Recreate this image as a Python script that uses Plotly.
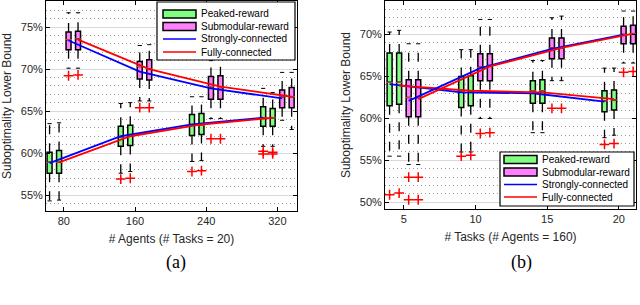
import plotly.graph_objects as go

# ---------------- data: panel (a) ----------------
a_x = [80, 160, 240, 320]
a_ticks = [80, 160, 240, 320]

a_pk_s_lo = [54.3, 57.6, 59.0, 60.8]
a_pk_s_q1 = [57.6, 60.8, 62.1, 63.2]
a_pk_s_md = [58.9, 61.9, 63.3, 64.2]
a_pk_s_q3 = [60.1, 63.2, 64.6, 65.5]
a_pk_s_hi = [63.5, 65.9, 66.7, 67.7]
a_pk_s_out_x = [160, 240, 320, 320]
a_pk_s_out_y = [56.9, 57.8, 59.9, 60.2]

a_pk_f_lo = [54.4, 57.8, 59.1, 60.8]
a_pk_f_q1 = [57.6, 60.9, 62.2, 63.2]
a_pk_f_md = [58.9, 62.1, 63.3, 64.2]
a_pk_f_q3 = [60.3, 63.3, 64.7, 65.3]
a_pk_f_hi = [63.6, 66.0, 66.7, 67.2]
a_pk_f_out_x = [160, 240, 320, 320]
a_pk_f_out_y = [57.0, 57.9, 59.9, 60.1]

a_sm_s_lo = [70.1, 66.2, 64.1, 63.9]
a_sm_s_q1 = [72.3, 68.8, 66.4, 65.4]
a_sm_s_md = [73.5, 70.3, 67.9, 66.7]
a_sm_s_q3 = [74.4, 70.9, 69.1, 67.5]
a_sm_s_hi = [76.7, 72.8, 71.0, 69.6]
a_sm_s_out_x = [80, 160, 240]
a_sm_s_out_y = [69.2, 65.4, 61.7]

a_sm_f_lo = [70.1, 66.2, 64.1, 62.8]
a_sm_f_q1 = [72.3, 68.7, 66.4, 65.4]
a_sm_f_md = [73.6, 70.0, 67.8, 66.7]
a_sm_f_q3 = [74.5, 71.1, 69.2, 67.8]
a_sm_f_hi = [76.7, 72.9, 71.2, 69.6]
a_sm_f_out_x = [80, 160, 240]
a_sm_f_out_y = [69.3, 65.4, 61.7]

a_pk_s_mean = [58.8, 62.0, 63.4, 64.2]
a_pk_f_mean = [58.9, 62.0, 63.4, 64.2]
a_sm_s_mean = [73.4, 69.7, 67.7, 66.5]
a_sm_f_mean = [73.5, 70.0, 67.9, 66.7]

# ---------------- data: panel (b) ----------------
b_x = [5, 10, 15, 20]
b_ticks = [5, 10, 15, 20]

b_pk_s_lo = [55.5, 56.0, 58.3, 57.7]
b_pk_s_q1 = [61.5, 61.3, 61.8, 60.8]
b_pk_s_md = [64.3, 63.2, 63.3, 62.1]
b_pk_s_q3 = [67.8, 65.0, 64.5, 63.3]
b_pk_s_hi = [70.3, 68.2, 66.9, 66.0]
b_pk_s_out_x = [5, 10, 20]
b_pk_s_out_y = [50.9, 55.5, 56.9]

b_pk_f_lo = [55.5, 56.0, 58.3, 58.0]
b_pk_f_q1 = [61.7, 61.5, 61.8, 61.0]
b_pk_f_md = [64.3, 63.3, 63.3, 62.2]
b_pk_f_q3 = [67.8, 65.1, 64.6, 63.4]
b_pk_f_hi = [70.5, 68.2, 66.9, 66.0]
b_pk_f_out_x = [5, 10, 20]
b_pk_f_out_y = [51.1, 55.6, 57.0]

b_sm_s_lo = [54.5, 60.0, 64.5, 66.6]
b_sm_s_q1 = [60.2, 64.5, 67.1, 68.9]
b_sm_s_md = [62.5, 66.1, 68.4, 70.0]
b_sm_s_q3 = [64.6, 67.7, 69.6, 71.0]
b_sm_s_hi = [68.9, 71.8, 72.0, 72.8]
b_sm_s_out_x = [5, 5, 10, 15, 20]
b_sm_s_out_y = [53.0, 50.3, 58.2, 61.2, 65.5]

b_sm_f_lo = [54.5, 60.0, 64.5, 66.6]
b_sm_f_q1 = [60.2, 64.5, 67.1, 68.9]
b_sm_f_md = [62.5, 66.3, 68.4, 70.1]
b_sm_f_q3 = [64.6, 67.7, 69.6, 71.1]
b_sm_f_hi = [68.9, 71.8, 72.2, 72.8]
b_sm_f_out_x = [5, 5, 10, 15, 20]
b_sm_f_out_y = [53.0, 50.3, 58.3, 61.2, 65.6]

b_pk_s_mean = [64.1, 63.1, 63.0, 62.0]
b_pk_f_mean = [63.9, 63.3, 63.1, 62.3]
b_sm_s_mean = [62.1, 66.0, 68.3, 70.0]
b_sm_f_mean = [62.3, 66.2, 68.4, 70.1]

legend_names = ["Peaked-reward", "Submodular-reward", "Strongly-connected", "Fully-connected"]

GREEN = "#80FF80"
MAGENTA = "#FF80FF"
FONT = "Liberation Sans, Arial, sans-serif"
SERIF = "Liberation Serif, Times New Roman, serif"
W, H = 640, 305

fig = go.Figure()


def add_panel(xa, ya, cats, step, boxw, series, means):
    offs = [-3 * step, -step, step, 3 * step]
    for (lo, q1, md, q3, hi, ox, oy, fill), off in zip(series, offs):
        xs = [c + off for c in cats]
        fig.add_trace(go.Box(
            x=xs, q1=q1, median=md, q3=q3, lowerfence=q1, upperfence=q3,
            width=boxw, fillcolor=fill, line=dict(color="black", width=1.5),
            whiskerwidth=0, boxpoints=False, showlegend=False,
            hoverinfo="skip", xaxis=xa, yaxis=ya))
        wx, wy = [], []
        for x, a, b, c, d in zip(xs, lo, q1, q3, hi):
            wx += [x, x, None, x, x, None]
            wy += [c, d, None, b, a, None]
        fig.add_trace(go.Scatter(
            x=wx, y=wy, mode="lines", line=dict(color="black", width=1.3, dash="dash"),
            showlegend=False, hoverinfo="skip", xaxis=xa, yaxis=ya))
        fig.add_trace(go.Scatter(
            x=xs + xs, y=lo + hi, mode="markers",
            marker=dict(symbol="line-ew", size=3, line=dict(color="black", width=1)),
            showlegend=False, hoverinfo="skip", xaxis=xa, yaxis=ya))
        fig.add_trace(go.Scatter(
            x=xs, y=md, mode="markers",
            marker=dict(symbol="line-ew", size=5, line=dict(color="#e05050", width=1)),
            showlegend=False, hoverinfo="skip", xaxis=xa, yaxis=ya))
    for m, off, col in zip(means, offs, ["blue", "red", "blue", "red"]):
        fig.add_trace(go.Scatter(
            x=[c + off for c in cats], y=m, mode="lines",
            line=dict(color=col, width=1.8), showlegend=False,
            hoverinfo="skip", xaxis=xa, yaxis=ya))
    for (lo, q1, md, q3, hi, ox, oy, fill), off in zip(series, offs):
        fig.add_trace(go.Scatter(
            x=[c + off for c in ox], y=oy, mode="markers",
            marker=dict(symbol="cross-thin", size=7, line=dict(color="red", width=1.5)),
            showlegend=False, hoverinfo="skip", xaxis=xa, yaxis=ya))


add_panel("x", "y", a_x, 5.33, 5.6,
          [(a_pk_s_lo, a_pk_s_q1, a_pk_s_md, a_pk_s_q3, a_pk_s_hi, a_pk_s_out_x, a_pk_s_out_y, GREEN),
           (a_pk_f_lo, a_pk_f_q1, a_pk_f_md, a_pk_f_q3, a_pk_f_hi, a_pk_f_out_x, a_pk_f_out_y, GREEN),
           (a_sm_s_lo, a_sm_s_q1, a_sm_s_md, a_sm_s_q3, a_sm_s_hi, a_sm_s_out_x, a_sm_s_out_y, MAGENTA),
           (a_sm_f_lo, a_sm_f_q1, a_sm_f_md, a_sm_f_q3, a_sm_f_hi, a_sm_f_out_x, a_sm_f_out_y, MAGENTA)],
          [a_pk_s_mean, a_pk_f_mean, a_sm_s_mean, a_sm_f_mean])

add_panel("x2", "y2", b_x, 0.333, 0.35,
          [(b_pk_s_lo, b_pk_s_q1, b_pk_s_md, b_pk_s_q3, b_pk_s_hi, b_pk_s_out_x, b_pk_s_out_y, GREEN),
           (b_pk_f_lo, b_pk_f_q1, b_pk_f_md, b_pk_f_q3, b_pk_f_hi, b_pk_f_out_x, b_pk_f_out_y, GREEN),
           (b_sm_s_lo, b_sm_s_q1, b_sm_s_md, b_sm_s_q3, b_sm_s_hi, b_sm_s_out_x, b_sm_s_out_y, MAGENTA),
           (b_sm_f_lo, b_sm_f_q1, b_sm_f_md, b_sm_f_q3, b_sm_f_hi, b_sm_f_out_x, b_sm_f_out_y, MAGENTA)],
          [b_pk_s_mean, b_pk_f_mean, b_sm_s_mean, b_sm_f_mean])

# ---------------- legends (drawn in paper space) ----------------
shapes, annotations = [], []


def px(x):
    return x / W


def py(y):
    return 1 - y / H


def add_legend(x0, y0, x1, y1, ys, sx0, sx1, tx):
    shapes.append(dict(type="rect", xref="paper", yref="paper", x0=px(x0), x1=px(x1),
                       y0=py(y0), y1=py(y1), fillcolor="white",
                       line=dict(color="black", width=1.2)))
    for i, (name, yc) in enumerate(zip(legend_names, ys)):
        if i < 2:
            shapes.append(dict(type="rect", xref="paper", yref="paper",
                               x0=px(sx0), x1=px(sx1), y0=py(yc - 4), y1=py(yc + 4),
                               fillcolor=[GREEN, MAGENTA][i],
                               line=dict(color="black", width=1.5)))
        else:
            shapes.append(dict(type="line", xref="paper", yref="paper",
                               x0=px(sx0), x1=px(sx1), y0=py(yc), y1=py(yc),
                               line=dict(color=["blue", "red"][i - 2], width=1.5)))
        annotations.append(dict(text=name, xref="paper", yref="paper", x=px(tx), y=py(yc),
                                xanchor="left", yanchor="middle", showarrow=False,
                                font=dict(size=10, family=FONT, color="black")))


add_legend(157, 2, 295, 60, [14, 26.5, 39, 52], 163, 196, 199)
add_legend(500, 152, 634, 206, [159.5, 172, 184.5, 197], 504, 537, 540)

annotations += [
    dict(text="(a)", x=px(176), y=py(262), xref="paper", yref="paper",
         xanchor="center", yanchor="middle", showarrow=False,
         font=dict(size=18, family=SERIF, color="black")),
    dict(text="(b)", x=px(521), y=py(262), xref="paper", yref="paper",
         xanchor="center", yanchor="middle", showarrow=False,
         font=dict(size=18, family=SERIF, color="black")),
]

common_x = dict(showline=True, linecolor="black", linewidth=1, mirror="ticks",
                ticks="inside", ticklen=4, tickcolor="black", showgrid=False,
                zeroline=False, tickfont=dict(size=11, color="#262626", family=FONT),
                title_font=dict(size=12, color="#262626", family=FONT))
common_y = dict(showline=True, linecolor="black", linewidth=1, mirror="ticks",
                ticks="inside", ticklen=4, tickcolor="black", showgrid=True,
                gridcolor="#d9d9d9", gridwidth=1, zeroline=False, dtick=5,
                ticksuffix="%", tickfont=dict(size=11, color="#262626", family=FONT),
                title_font=dict(size=12, color="#262626", family=FONT),
                minor=dict(dtick=1, showgrid=True, gridcolor="#9a9a9a",
                           griddash="1px,3px", gridwidth=1, ticks=""))

fig.update_layout(
    width=W, height=H, margin=dict(l=0, r=0, t=0, b=0),
    paper_bgcolor="white", plot_bgcolor="white",
    font=dict(family=FONT, color="#262626"),
    xaxis=dict(common_x, domain=[46 / W, 297 / W], range=[60, 342], tickvals=a_ticks,
               title=dict(text="# Agents (# Tasks = 20)", standoff=8), anchor="y"),
    yaxis=dict(common_y, domain=[1 - 211 / H, 1 - 1 / H], range=[53.1, 78.1],
               title=dict(text="Suboptimality Lower Bound", standoff=6), anchor="x"),
    xaxis2=dict(common_x, domain=[385 / W, 636 / W], range=[3.68, 21.2], tickvals=b_ticks,
                title=dict(text="# Tasks (# Agents = 160)", standoff=8), anchor="y2"),
    yaxis2=dict(common_y, domain=[1 - 209 / H, 1 - 1 / H], range=[49.2, 74.0],
                title=dict(text="Suboptimality Lower Bound", standoff=6), anchor="x2"),
    showlegend=False,
    shapes=shapes,
    annotations=annotations,
)

fig.write_html("out.html", config={"displayModeBar": False},
               post_script="document.body.style.margin='0';")
